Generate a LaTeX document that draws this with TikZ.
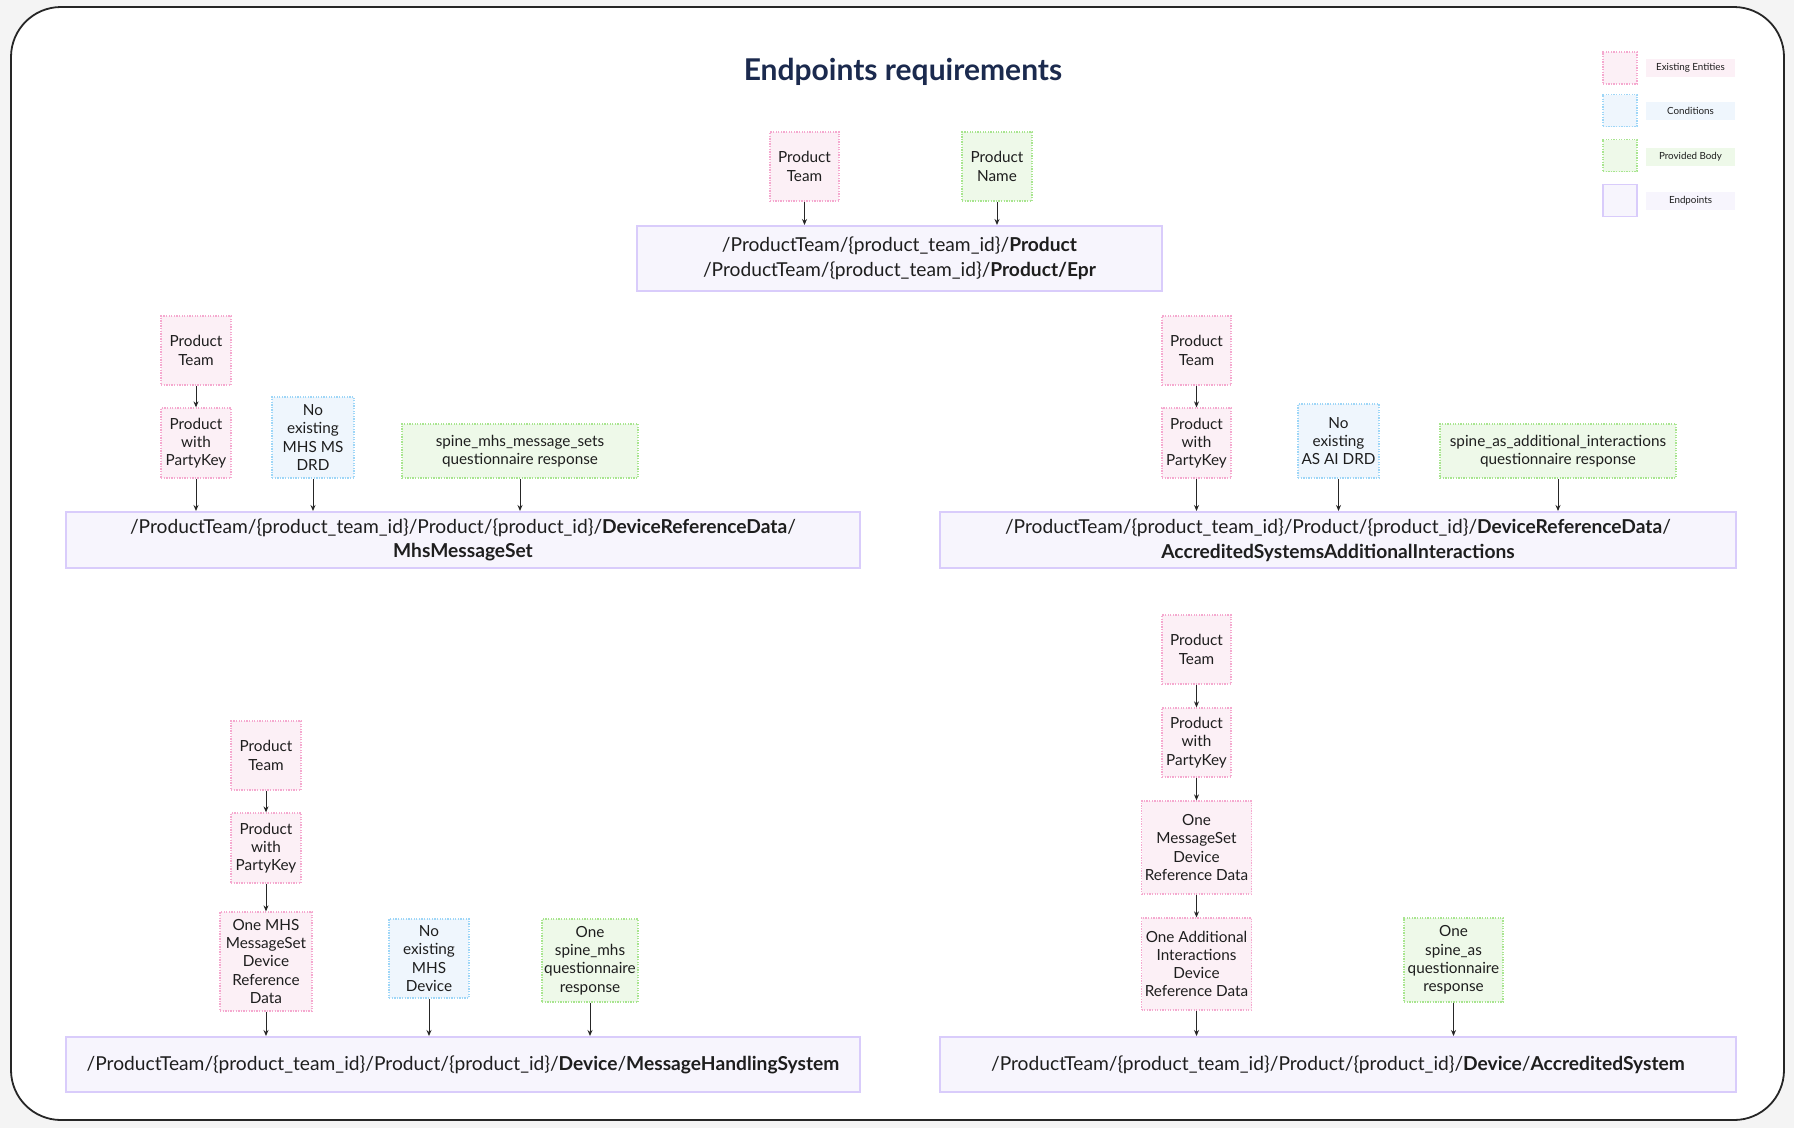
\documentclass[tikz,border=0pt]{standalone}
\usepackage{fontspec}
\setmainfont{Lato}
\usetikzlibrary{arrows.meta}
\definecolor{pinkfill}{HTML}{FCF0F6}
\definecolor{pinkdraw}{HTML}{F5A9CF}
\definecolor{bluefill}{HTML}{EFF6FD}
\definecolor{bluedraw}{HTML}{9ED6F7}
\definecolor{greenfill}{HTML}{EEF9E9}
\definecolor{greendraw}{HTML}{A8E58F}
\definecolor{epfill}{HTML}{F7F5FD}
\definecolor{epdraw}{HTML}{D9CCFB}
\definecolor{titlecol}{HTML}{1B2A4E}
\definecolor{txt}{HTML}{1E1E1E}
\definecolor{bggray}{HTML}{F4F4F4}
\begin{document}
\begin{tikzpicture}[x=1pt,y=-1pt,
 box/.style={rectangle, inner sep=0pt, align=center, text=txt, font=\fontsize{15.3}{18.2}\selectfont, line width=1.3pt, dash pattern=on 1.3pt off 1.3pt},
 ent/.style={box, draw=pinkdraw, fill=pinkfill},
 cond/.style={box, draw=bluedraw, fill=bluefill},
 body/.style={box, draw=greendraw, fill=greenfill},
 ep/.style={rectangle, inner sep=0pt, align=center, draw=epdraw, fill=epfill, line width=2pt, text=txt, font=\fontsize{19.2}{24.5}\selectfont},
 arr/.style={-{Stealth[length=6pt,width=5pt]}, line width=1pt, draw=black!85},
 leglab/.style={rectangle, inner sep=0pt, minimum width=89pt, minimum height=18pt, text=txt, font=\fontsize{9.8}{11}\selectfont},
 sq/.style={minimum width=34pt, minimum height=32pt},
]
\fill[bggray] (0,0) rectangle (1794,1128);
\useasboundingbox (0,0) rectangle (1794,1128);
\draw[line width=1.8pt, draw=black!85, fill=white, rounded corners=50pt] (11,7) rectangle (1784,1120);

\node[font=\fontsize{30}{34}\selectfont\bfseries, text=titlecol] (title) at (903,72) {Endpoints requirements};

% legend
\node[ent, sq] (lg1) at (1620,68) {};
\node[cond, sq] (lg2) at (1620,110.5) {};
\node[body, sq] (lg3) at (1620,155.5) {};
\node[rectangle, draw=epdraw, fill=epfill, line width=1.5pt, sq] (lg4) at (1620,200.5) {};
\node[leglab, fill=pinkfill] (ll1) at (1690.5,68) {Existing Entities};
\node[leglab, fill=bluefill] (ll2) at (1690.5,111) {Conditions};
\node[leglab, fill=greenfill] (ll3) at (1690.5,156.5) {Provided Body};
\node[leglab, fill=epfill] (ll4) at (1690.5,201) {Endpoints};

% top: Product
\node[ent, minimum width=69pt, minimum height=69pt] (pt0) at (804.5,166.5) {Product\\Team};
\node[body, minimum width=70pt, minimum height=69pt] (pn0) at (997,166.5) {Product\\Name};
\node[ep, minimum width=525pt, minimum height=65pt] (ep0) at (899.5,258.5) {/ProductTeam/\{product\_team\_id\}/\textbf{Product}\\/ProductTeam/\{product\_team\_id\}/\textbf{Product/Epr}};
\draw[arr] (pt0.south) -- (pt0.south |- ep0.north);
\draw[arr] (pn0.south) -- (pn0.south |- ep0.north);

% MhsMessageSet
\node[ent, minimum width=70pt, minimum height=69pt] (pt1) at (196,350.5) {Product\\Team};
\node[ent, minimum width=70pt, minimum height=70pt] (pk1) at (196,443) {Product\\with\\PartyKey};
\node[cond, minimum width=82pt, minimum height=81pt] (c1) at (313,437.5) {No\\existing\\MHS MS\\DRD};
\node[body, minimum width=236pt, minimum height=54pt] (b1) at (520,451) {spine\_mhs\_message\_sets\\questionnaire response};
\node[ep, minimum width=794pt, minimum height=56pt] (ep1) at (463,540) {/ProductTeam/\{product\_team\_id\}/Product/\{product\_id\}/\textbf{DeviceReferenceData}/\\\textbf{MhsMessageSet}};
\draw[arr] (pt1.south) -- (pk1.north);
\draw[arr] (pk1.south) -- (pk1.south |- ep1.north);
\draw[arr] (c1.south) -- (c1.south |- ep1.north);
\draw[arr] (b1.south) -- (b1.south |- ep1.north);

% AccreditedSystemsAdditionalInteractions
\node[ent, minimum width=69pt, minimum height=69pt] (pt2) at (1196.5,350.5) {Product\\Team};
\node[ent, minimum width=69pt, minimum height=70pt] (pk2) at (1196.5,443) {Product\\with\\PartyKey};
\node[cond, minimum width=81pt, minimum height=74pt] (c2) at (1338.5,441) {No\\existing\\AS AI DRD};
\node[body, minimum width=236pt, minimum height=54pt] (b2) at (1558,451) {spine\_as\_additional\_interactions\\questionnaire response};
\node[ep, minimum width=796pt, minimum height=56pt] (ep2) at (1338,540) {/ProductTeam/\{product\_team\_id\}/Product/\{product\_id\}/\textbf{DeviceReferenceData}/\\\textbf{AccreditedSystemsAdditionalInteractions}};
\draw[arr] (pt2.south) -- (pk2.north);
\draw[arr] (pk2.south) -- (pk2.south |- ep2.north);
\draw[arr] (c2.south) -- (c2.south |- ep2.north);
\draw[arr] (b2.south) -- (b2.south |- ep2.north);

% MessageHandlingSystem
\node[ent, minimum width=70pt, minimum height=69pt] (pt3) at (266,755.5) {Product\\Team};
\node[ent, minimum width=70pt, minimum height=70pt] (pk3) at (266,848) {Product\\with\\PartyKey};
\node[ent, minimum width=92pt, minimum height=99pt] (e3) at (266,961.5) {One MHS\\MessageSet\\Device\\Reference\\Data};
\node[cond, minimum width=80pt, minimum height=79pt] (c3) at (429,958.5) {No\\existing\\MHS\\Device};
\node[body, minimum width=96pt, minimum height=83pt] (b3) at (590,960.5) {One\\spine\_mhs\\questionnaire\\response};
\node[ep, minimum width=794pt, minimum height=55pt] (ep3) at (463,1064.5) {/ProductTeam/\{product\_team\_id\}/Product/\{product\_id\}/\textbf{Device}/\textbf{MessageHandlingSystem}};
\draw[arr] (pt3.south) -- (pk3.north);
\draw[arr] (pk3.south) -- (e3.north);
\draw[arr] (e3.south) -- (e3.south |- ep3.north);
\draw[arr] (c3.south) -- (c3.south |- ep3.north);
\draw[arr] (b3.south) -- (b3.south |- ep3.north);

% AccreditedSystem
\node[ent, minimum width=69pt, minimum height=69pt] (pt4) at (1196.5,649.5) {Product\\Team};
\node[ent, minimum width=69pt, minimum height=69pt] (pk4) at (1196.5,742.5) {Product\\with\\PartyKey};
\node[ent, minimum width=110pt, minimum height=93pt] (e4a) at (1196.5,847.5) {One\\MessageSet\\Device\\Reference Data};
\node[ent, minimum width=110pt, minimum height=92pt] (e4b) at (1196.5,964) {One Additional\\Interactions\\Device\\Reference Data};
\node[body, minimum width=99pt, minimum height=84pt] (b4) at (1453.5,960) {One\\spine\_as\\questionnaire\\response};
\node[ep, minimum width=796pt, minimum height=55pt] (ep4) at (1338,1064.5) {/ProductTeam/\{product\_team\_id\}/Product/\{product\_id\}/\textbf{Device}/\textbf{AccreditedSystem}};
\draw[arr] (pt4.south) -- (pk4.north);
\draw[arr] (pk4.south) -- (e4a.north);
\draw[arr] (e4a.south) -- (e4b.north);
\draw[arr] (e4b.south) -- (e4b.south |- ep4.north);
\draw[arr] (b4.south) -- (b4.south |- ep4.north);
\end{tikzpicture}
\end{document}
